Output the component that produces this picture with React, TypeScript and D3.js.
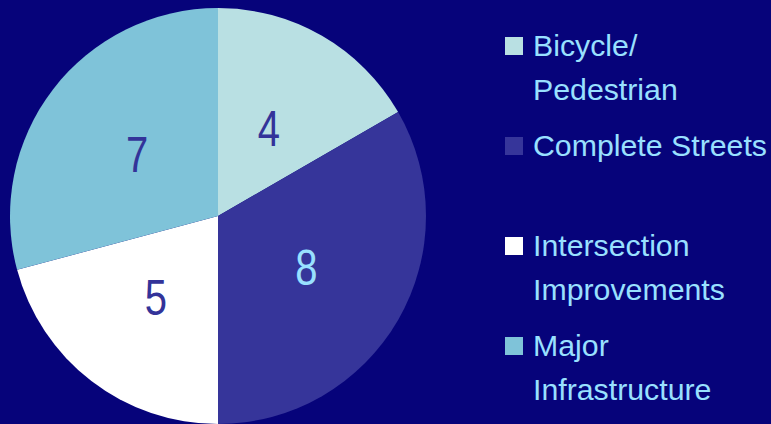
import React, { useEffect, useRef } from "react";
import * as d3 from "d3";

// chart data
const categories = ["Bicycle/ Pedestrian", "Complete Streets", "Intersection Improvements", "Major Infrastructure"];
const legendLines = [["Bicycle/", "Pedestrian"], ["Complete Streets"], ["Intersection", "Improvements"], ["Major", "Infrastructure"]];
const values = [4, 8, 5, 7];
const colors = ["#b9e0e3", "#36359a", "#ffffff", "#7fc3d9"];
const labelColors = ["#333399", "#99e0ff", "#333399", "#333399"];

const App = () => {
  const svgRef = useRef<SVGSVGElement>(null);

  useEffect(() => {
    const width = 771;
    const height = 424;
    const cx = 218;
    const cy = 216;
    const radius = 208;

    const svg = d3.select(svgRef.current).attr("width", width).attr("height", height);
    svg.selectAll("*").remove();

    svg.append("rect").attr("width", width).attr("height", height).attr("fill", "#06037a");

    const data = categories.map((c, i) => ({ name: c, value: values[i], i }));

    const pie = d3.pie<any>().sort(null).value((d) => d.value);
    const arc = d3.arc<any>().innerRadius(0).outerRadius(radius);
    const labelArc = d3.arc<any>().innerRadius(102).outerRadius(102);

    const g = svg.append("g").attr("transform", `translate(${cx},${cy})`);
    const arcs = pie(data);

    g.selectAll("path")
      .data(arcs)
      .enter()
      .append("path")
      .attr("d", arc)
      .attr("fill", (d) => colors[d.data.i]);

    // value labels, a narrow look like the original
    g.selectAll("text")
      .data(arcs)
      .enter()
      .append("text")
      .attr("transform", (d) => {
        const [x, y] = labelArc.centroid(d);
        return `translate(${x},${y + 18}) scale(0.8,1)`;
      })
      .attr("text-anchor", "middle")
      .attr("font-family", "'Liberation Sans', Arial, sans-serif")
      .attr("font-size", 50)
      .attr("fill", (d) => labelColors[d.data.i])
      .text((d) => d.data.value);

    // legend
    const legend = svg.append("g").attr("transform", "translate(505,0)");
    legendLines.forEach((lines, i) => {
      const baseline = 56 + i * 100;
      legend
        .append("rect")
        .attr("x", 0)
        .attr("y", baseline - 19)
        .attr("width", 18)
        .attr("height", 18)
        .attr("fill", colors[i]);
      lines.forEach((line, j) => {
        legend
          .append("text")
          .attr("transform", `translate(28,${baseline + j * 44}) scale(1.045,1)`)
          .attr("font-family", "'Liberation Sans', Arial, sans-serif")
          .attr("font-size", 29)
          .attr("fill", "#99e0ff")
          .text(line);
      });
    });
  }, []);

  return (
    <div style={{ position: "absolute", left: 0, top: 0 }}>
      <svg ref={svgRef} style={{ display: "block" }}></svg>
    </div>
  );
};

export default App;
